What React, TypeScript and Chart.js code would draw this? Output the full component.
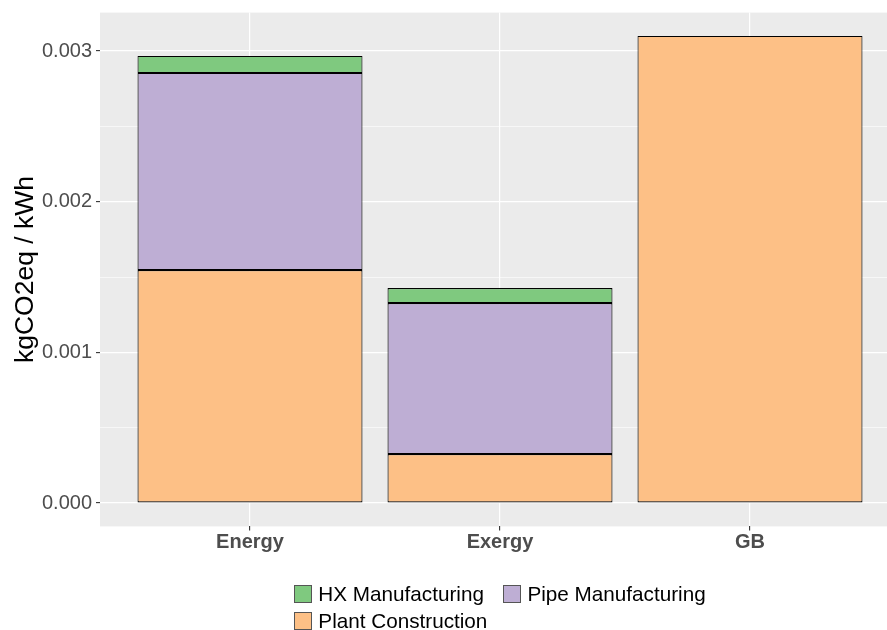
import React, { useEffect, useRef } from "react";
import { Chart, registerables } from "chart.js";

Chart.register(...registerables);

const categories = ["Energy", "Exergy", "GB"];
const plantConstruction: (number | null)[] = [0.001546, 0.000325, 0.0031];
const pipeManufacturing: (number | null)[] = [0.001308, 0.001002, null];
const hxManufacturing: (number | null)[] = [0.000113, 0.0001, null];
const seriesNames = ["Plant Construction", "Pipe Manufacturing", "HX Manufacturing"];
const seriesColors = ["#FDC086", "#BEAED4", "#7FC97F"];
const yMajorTicks = [0, 0.001, 0.002, 0.003];
const yMinorTicks = [0.0005, 0.0015, 0.0025];
const yTitle = "kgCO2eq / kWh";
// legend in ggplot column order: column 1 then column 2
const legendColumns = [["HX Manufacturing", "Plant Construction"], ["Pipe Manufacturing"]];

const FONT = '"Liberation Sans", Arial, Helvetica, sans-serif';

const isMajor = (v: number | undefined) =>
  v !== undefined && yMajorTicks.some((m) => Math.abs(m - v) < 1e-9);

const panelBg = {
  id: "panelBg",
  beforeDraw(chart: any) {
    const { ctx, chartArea } = chart;
    if (!chartArea) return;
    ctx.save();
    ctx.fillStyle = "#EBEBEB";
    ctx.fillRect(chartArea.left, chartArea.top, chartArea.right - chartArea.left, chartArea.bottom - chartArea.top);
    ctx.restore();
  },
};

export default function App() {
  const ref = useRef<HTMLCanvasElement | null>(null);

  useEffect(() => {
    if (!ref.current) return;
    const seriesValues = [plantConstruction, pipeManufacturing, hxManufacturing];
    const totals = categories.map((_, i) =>
      seriesValues.reduce((s, arr) => s + (arr[i] ?? 0), 0)
    );
    const maxTotal = Math.max(...totals);
    const pad = maxTotal * 0.05;

    const chart = new Chart(ref.current, {
      type: "bar",
      data: {
        datasets: seriesValues.map((arr, k) => ({
          label: seriesNames[k],
          data: categories.map((_, i) => ({ x: i + 1, y: arr[i] })),
          backgroundColor: seriesColors[k],
          borderColor: "#000000",
          borderWidth: 1.1,
          borderSkipped: false,
          categoryPercentage: 1,
          barPercentage: 0.9,
        })) as any,
      },
      options: {
        animation: false,
        responsive: false,
        devicePixelRatio: 1,
        layout: { padding: { top: 12.6, left: 0, right: 0, bottom: 0 } },
        plugins: { legend: { display: false }, tooltip: { enabled: false } },
        scales: {
          x: {
            type: "linear",
            stacked: true,
            offset: false,
            min: 0.4,
            max: categories.length + 0.6,
            afterBuildTicks: (scale: any) => {
              scale.ticks = categories.map((_, i) => ({ value: i + 1 }));
            },
            afterFit: (scale: any) => {
              scale.height = 630 - 526.4;
              scale.paddingLeft = 0;
              scale.paddingRight = 0;
            },
            border: { display: false },
            grid: {
              offset: false,
              color: "#FFFFFF",
              lineWidth: 1.2,
              tickColor: "#333333",
              tickLength: 4,
              tickWidth: 1.1,
            },
            ticks: {
              autoSkip: false,
              maxRotation: 0,
              padding: 0,
              color: "#4D4D4D",
              font: { family: FONT, size: 20, weight: "bold" },
              callback: (v: any) => categories[Math.round(Number(v)) - 1] ?? "",
            },
          },
          y: {
            type: "linear",
            stacked: true,
            min: -pad,
            max: maxTotal + pad,
            afterBuildTicks: (scale: any) => {
              scale.ticks = [...yMajorTicks, ...yMinorTicks]
                .sort((a, b) => a - b)
                .map((v) => ({ value: v }));
            },
            afterFit: (scale: any) => {
              scale.width = 100;
              scale.paddingTop = 0;
              scale.paddingBottom = 0;
            },
            border: { display: false },
            grid: {
              color: "#FFFFFF",
              lineWidth: (c: any) => (isMajor(c.tick?.value) ? 1.2 : 0.6),
              tickColor: (c: any) => (isMajor(c.tick?.value) ? "#333333" : "rgba(0,0,0,0)"),
              tickLength: 4,
              tickWidth: 1.1,
            },
            ticks: {
              autoSkip: false,
              padding: 4,
              color: "#4D4D4D",
              font: { family: FONT, size: 20 },
              callback: (v: any) => (isMajor(Number(v)) ? Number(v).toFixed(3) : ""),
            },
            title: {
              display: true,
              text: yTitle,
              color: "#000000",
              font: { family: FONT, size: 26.5 },
              padding: { top: 10, bottom: 0 },
            },
          },
        },
      } as any,
      plugins: [panelBg],
    });
    return () => chart.destroy();
  }, []);

  const colorFor = (name: string) => seriesColors[seriesNames.indexOf(name)];

  return (
    <div style={{ position: "fixed", left: 0, top: 0, width: 887, height: 630, overflow: "hidden", background: "#FFFFFF" }}>
      <div style={{ position: "relative", width: 900, height: 630 }}>
        <canvas ref={ref} width={900} height={630} style={{ display: "block", width: 900, height: 630 }} />
        <div
          style={{
            position: "absolute",
            left: 100,
            width: 800,
            top: 585,
            display: "flex",
            justifyContent: "center",
          }}
        >
          <div style={{ display: "flex", gap: 16 }}>
            {legendColumns.map((col, ci) => (
              <div key={ci} style={{ display: "flex", flexDirection: "column", gap: 9 }}>
                {col.map((name) => (
                  <div key={name} style={{ display: "flex", alignItems: "center", height: 18 }}>
                    <div
                      style={{
                        width: 16,
                        height: 16,
                        background: colorFor(name),
                        border: "1px solid #555555",
                        marginRight: 6,
                        flex: "none",
                      }}
                    />
                    <span style={{ fontFamily: FONT, fontSize: 20.7, color: "#000000", lineHeight: "18px", whiteSpace: "nowrap" }}>
                      {name}
                    </span>
                  </div>
                ))}
              </div>
            ))}
          </div>
        </div>
      </div>
    </div>
  );
}
